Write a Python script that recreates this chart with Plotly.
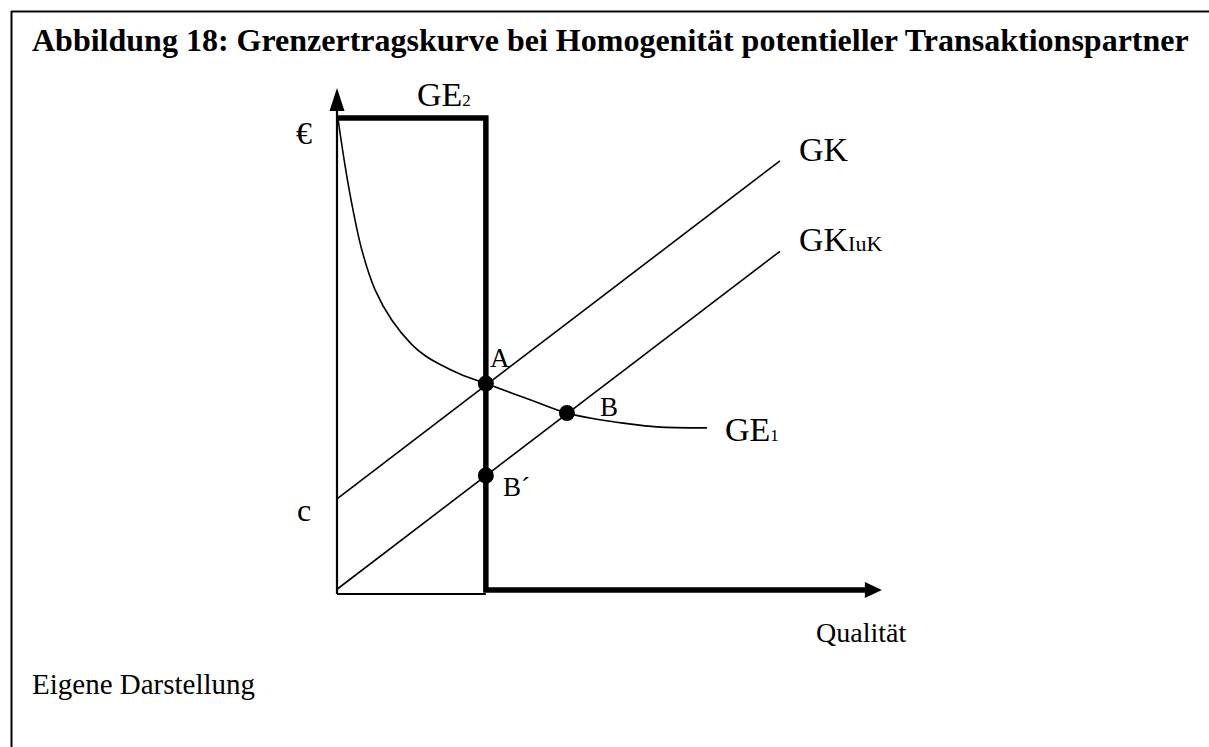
import plotly.graph_objects as go

# ---- data (economic units) ----
GE1_q = [0.02, 0.18, 0.34, 0.56, 0.86, 1.24, 1.69, 2.00, 2.33, 2.80, 3.36, 4.36, 5.19, 5.94, 6.46, 7.22, 8.35]
GE1_v = [10.0, 9.01, 8.17, 7.23, 6.39, 5.75, 5.24, 5.00, 4.82, 4.61, 4.42, 4.08, 3.80, 3.66, 3.59, 3.51, 3.49]
GK_q = [0, 10]
GK_v = [2.0, 9.1]
GKIuK_q = [0, 10]
GKIuK_v = [0.1, 7.2]
GE2_top = 10.0
GE2_q = 3.36
point_names = ["A", "B", "B´"]
point_q = [3.36, 5.19, 3.36]
point_v = [4.42, 3.80, 2.49]
y_axis_top = 10.63
x_axis_end = 12.3

# ---- pixel mapping of the drawing (origin at px 337/594) ----
PXQ, PXV = 44.3, 47.6
W, H = 1209, 747
OX, OY = 337, 594
xr = [-OX / PXQ, (W - OX) / PXQ]
yr = [-(H - OY) / PXV, OY / PXV]

SERIF = "Liberation Serif, Times New Roman, serif"
BLACK = "black"

fig = go.Figure()

# GE1 curve
fig.add_trace(go.Scatter(x=GE1_q, y=GE1_v, mode="lines",
                         line=dict(color=BLACK, width=1.6, shape="spline", smoothing=1.0),
                         hoverinfo="skip"))
# GK lines
fig.add_trace(go.Scatter(x=GK_q, y=GK_v, mode="lines", line=dict(color=BLACK, width=1.6), hoverinfo="skip"))
fig.add_trace(go.Scatter(x=GKIuK_q, y=GKIuK_v, mode="lines", line=dict(color=BLACK, width=1.6), hoverinfo="skip"))

# axes
ah_y_len, ah_y_half = 23 / PXV, 7.5 / PXQ
ah_x_len, ah_x_half = 17 / PXQ, 8 / PXV
thick_v = 4 / PXV
fig.add_trace(go.Scatter(x=[0, 0], y=[0, y_axis_top - ah_y_len + 0.05], mode="lines",
                         line=dict(color=BLACK, width=2.2), hoverinfo="skip"))
fig.add_trace(go.Scatter(x=[0, GE2_q], y=[0, 0], mode="lines",
                         line=dict(color=BLACK, width=2), hoverinfo="skip"))
# GE2 thick step line
fig.add_trace(go.Scatter(x=[0, GE2_q, GE2_q, x_axis_end - ah_x_len + 0.05],
                         y=[GE2_top, GE2_top, thick_v, thick_v], mode="lines",
                         line=dict(color=BLACK, width=5.5), hoverinfo="skip"))

shapes = [
    dict(type="path", xref="x", yref="y",
         path=f"M {-ah_y_half},{y_axis_top - ah_y_len} L {ah_y_half},{y_axis_top - ah_y_len} L 0,{y_axis_top} Z",
         fillcolor=BLACK, line=dict(width=0)),
    dict(type="path", xref="x", yref="y",
         path=f"M {x_axis_end - ah_x_len},{thick_v - ah_x_half} L {x_axis_end - ah_x_len},{thick_v + ah_x_half} L {x_axis_end},{thick_v} Z",
         fillcolor=BLACK, line=dict(width=0)),
    # frame (top and left only)
    dict(type="line", xref="paper", yref="paper", x0=11 / W, x1=1.0, y0=1 - 11.5 / H, y1=1 - 11.5 / H,
         line=dict(color=BLACK, width=2)),
    dict(type="line", xref="paper", yref="paper", x0=11.5 / W, x1=11.5 / W, y0=1 - 11 / H, y1=0,
         line=dict(color=BLACK, width=2)),
]

# points
fig.add_trace(go.Scatter(x=point_q, y=point_v, mode="markers",
                         marker=dict(color=BLACK, size=16), hoverinfo="skip"))

ann = []
def lab(text, x, y, size, xanchor="left"):
    ann.append(dict(text=text, x=x, y=y, xref="x", yref="y", showarrow=False,
                    xanchor=xanchor, yanchor="middle",
                    font=dict(family=SERIF, size=size, color=BLACK)))

lab("€", -0.745, 9.685, 32, "center")
lab("c", -0.745, 1.765, 32, "center")
lab('GE<span style="font-size:17px">2</span>', 1.75, 10.5, 34)
lab("GK", 10.38, 9.33, 34)
lab('GK<span style="font-size:22px">IuK</span>', 10.38, 7.44, 34)
lab('GE<span style="font-size:17px">1</span>', 8.71, 3.45, 34)
lab(point_names[0], 3.40, 4.96, 27)
lab(point_names[1], 5.89, 3.93, 27)
lab(point_names[2], 3.70, 2.25, 27)
lab("Qualität", 10.76, -0.80, 28)

ann.append(dict(text="<b>Abbildung 18: Grenzertragskurve bei Homogenität potentieller Transaktionspartner</b>",
                x=30 / W, y=1 - 40 / H, xref="paper", yref="paper", showarrow=False,
                xanchor="left", yanchor="middle", font=dict(family=SERIF, size=32, color=BLACK)))
ann.append(dict(text="Eigene Darstellung", x=30 / W, y=1 - 684 / H, xref="paper", yref="paper",
                showarrow=False, xanchor="left", yanchor="middle",
                font=dict(family=SERIF, size=29, color=BLACK)))

fig.update_layout(
    width=W, height=H, margin=dict(l=0, r=0, t=0, b=0),
    paper_bgcolor="white", plot_bgcolor="white", showlegend=False,
    xaxis=dict(range=xr, visible=False, fixedrange=True),
    yaxis=dict(range=yr, visible=False, fixedrange=True),
    shapes=shapes, annotations=ann,
)

fig.write_html("out.html", config={"displayModeBar": False},
               post_script="document.body.style.margin='0';document.documentElement.style.overflow='hidden';document.body.style.overflow='hidden';")
